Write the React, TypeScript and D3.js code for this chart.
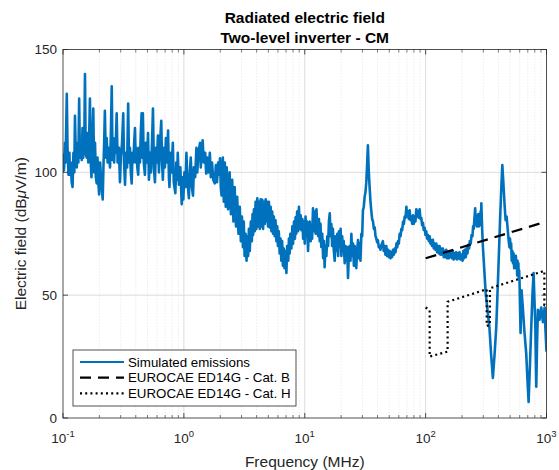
import React from 'react';
import * as d3 from 'd3';

const width = 559;
const height = 470;
const left = 63;
const right = 546.5;
const top = 49.5;
const bottom = 418;
const font = '"Liberation Sans", Arial, Helvetica, sans-serif';
const axisColor = '#262626';
const blue = '#0072BD';

// simulated emissions, [frequency MHz, field dBuV/m]
const emission01to045 = [
  [0.1, 100], [0.1005, 107], [0.102, 101], [0.104, 112], [0.105, 104], [0.1075, 132], [0.109, 110],
  [0.111, 99], [0.113, 108], [0.114, 99], [0.116, 104], [0.118, 96], [0.12, 94], [0.122, 108],
  [0.124, 100], [0.1256, 123], [0.128, 104], [0.13, 102], [0.132, 112], [0.134, 104], [0.136, 130],
  [0.138, 106], [0.14, 112], [0.143, 105], [0.145, 118], [0.147, 106], [0.15, 112], [0.152, 140],
  [0.154, 108], [0.157, 106], [0.159, 116], [0.162, 104], [0.1645, 114], [0.167, 130], [0.17, 103],
  [0.172, 98], [0.175, 112], [0.178, 126], [0.181, 100], [0.184, 112], [0.187, 98], [0.19, 95.5],
  [0.193, 106], [0.196, 96], [0.199, 91], [0.203, 104], [0.207, 96], [0.213, 89], [0.216, 102],
  [0.219, 112], [0.222, 125], [0.226, 106], [0.23, 114], [0.234, 104], [0.238, 110], [0.245, 102],
  [0.249, 116], [0.253, 135], [0.257, 105], [0.261, 114], [0.265, 104], [0.268, 112], [0.272, 108],
  [0.278, 124], [0.283, 104], [0.29, 110], [0.296, 96], [0.301, 106], [0.308, 112], [0.315, 124],
  [0.32, 104], [0.326, 95], [0.332, 108], [0.339, 102], [0.346, 128], [0.352, 104], [0.358, 110],
  [0.364, 100], [0.37, 95.5], [0.376, 108], [0.382, 104], [0.388, 112], [0.394, 118], [0.4, 104],
  [0.406, 110], [0.412, 102], [0.419, 99], [0.426, 110], [0.433, 104], [0.44, 116], [0.447, 124],
];

const emission045to2 = [
  [0.452, 106], [0.458, 124], [0.466, 104], [0.476, 99], [0.485, 112], [0.495, 104], [0.505, 116],
  [0.514, 97], [0.524, 108], [0.534, 100], [0.545, 112], [0.555, 126], [0.565, 102], [0.576, 96],
  [0.587, 110], [0.598, 104], [0.61, 115], [0.622, 100], [0.635, 112], [0.65, 121], [0.66, 104],
  [0.67, 97], [0.683, 110], [0.697, 102], [0.71, 114], [0.725, 104], [0.74, 117], [0.752, 98],
  [0.76, 94], [0.775, 108], [0.79, 100], [0.81, 112], [0.825, 96], [0.85, 91.5], [0.865, 104],
  [0.88, 97], [0.89, 108], [0.91, 95], [0.935, 102], [0.96, 87], [0.975, 98], [0.99, 89],
  [1.01, 100], [1.03, 94], [1.05, 108], [1.07, 96], [1.1, 89.5], [1.12, 100], [1.14, 106],
  [1.165, 94], [1.19, 90.5], [1.21, 102], [1.24, 98], [1.27, 110], [1.29, 100], [1.32, 108],
  [1.36, 112], [1.38, 102], [1.41, 110], [1.43, 113], [1.46, 104], [1.5, 108], [1.53, 99.5],
  [1.56, 106], [1.6, 100], [1.64, 108], [1.67, 98], [1.71, 104], [1.75, 97], [1.8, 95.5],
  [1.84, 103], [1.88, 96], [1.92, 104], [1.96, 99], [1.99, 105.7], [2.02, 94], [2.05, 90.6],
];

const emission2to10 = [
  [2.1, 106], [2.14, 88], [2.18, 104], [2.22, 86], [2.26, 102], [2.32, 85], [2.39, 100], [2.45, 83],
  [2.51, 97], [2.57, 80], [2.63, 94], [2.7, 78], [2.76, 90], [2.83, 75], [2.9, 86], [2.96, 72],
  [3.02, 82], [3.08, 69.5], [3.13, 80], [3.18, 66], [3.24, 75], [3.3, 64], [3.35, 74], [3.4, 66],
  [3.45, 77], [3.51, 68], [3.58, 80], [3.65, 72], [3.7, 83], [3.74, 74.5], [3.8, 85], [3.86, 76],
  [3.92, 88], [3.98, 77], [4.05, 89.4], [4.12, 78], [4.18, 88], [4.25, 77], [4.32, 89], [4.39, 78],
  [4.45, 88.8], [4.52, 77], [4.6, 88], [4.67, 79], [4.75, 89], [4.82, 80], [4.9, 88], [4.97, 78],
  [5.05, 88], [5.13, 77.6], [5.22, 86], [5.3, 76], [5.38, 84], [5.47, 75], [5.55, 82], [5.64, 74],
  [5.73, 80.5], [5.83, 72], [5.92, 78], [6.0, 70], [6.1, 76], [6.2, 67], [6.3, 73], [6.4, 64],
  [6.5, 72], [6.6, 62], [6.7, 69], [6.8, 61], [6.95, 68], [7.05, 59], [7.15, 70], [7.3, 64],
  [7.4, 73], [7.5, 67], [7.6, 75], [7.75, 69], [7.9, 78], [8.0, 71], [8.15, 80], [8.3, 73],
  [8.4, 81.7], [8.5, 75], [8.65, 84], [8.8, 76], [8.95, 86], [9.1, 77], [9.25, 82.5], [9.4, 76.4],
  [9.55, 81], [9.7, 73], [9.85, 80], [10.0, 71],
];

const emission10to43 = [
  [10.15, 82], [10.3, 74], [10.45, 80], [10.65, 68], [10.8, 77], [11.0, 80], [11.2, 72], [11.36, 78],
  [11.5, 73], [11.7, 85.4], [11.9, 76], [12.1, 84], [12.3, 75], [12.5, 85], [12.7, 77], [12.9, 74],
  [13.1, 81], [13.3, 72], [13.5, 79], [13.7, 69.6], [13.95, 75], [14.2, 65], [14.4, 72], [14.6, 61.4],
  [14.85, 70], [15.1, 66], [15.35, 74], [15.6, 70], [15.85, 80], [16.1, 83.3], [16.35, 74], [16.6, 79],
  [16.85, 70], [17.1, 77], [17.4, 68], [17.7, 64], [18.0, 74], [18.3, 68], [18.6, 75], [18.9, 66],
  [19.2, 76], [19.5, 70], [19.8, 77], [20.1, 66], [20.4, 74], [20.7, 68], [21.0, 72], [21.4, 63],
  [21.75, 70], [22.1, 64], [22.45, 69.6], [22.8, 57], [23.15, 66], [23.5, 70], [23.9, 64], [24.3, 75],
  [24.7, 66], [25.1, 71], [25.5, 62], [25.9, 70], [26.3, 64], [26.7, 61], [27.1, 68], [27.6, 72.4],
  [28.0, 65], [28.5, 71], [28.9, 64], [29.4, 75], [29.85, 74], [30.3, 84.5], [30.8, 86], [31.3, 90],
  [31.8, 92], [32.3, 96], [32.8, 103], [33.3, 111], [33.8, 101], [34.4, 94], [35.0, 88], [35.5, 84.5],
  [36.1, 81], [36.7, 80], [37.3, 77], [37.9, 77.6], [38.5, 74], [39.1, 73], [39.7, 71.5], [40.3, 72.4],
  [41.0, 69.5], [41.6, 70], [42.3, 68.5], [43.0, 70.3],
];

const emission43to200 = [
  [44.3, 72], [45, 68], [45.8, 70], [46.5, 66.5], [47.3, 70], [48, 66], [48.8, 68.5], [49.6, 65.5],
  [50.4, 68], [51.2, 65], [52.0, 67.5], [52.8, 65.5], [53.7, 68.5], [54.6, 66.5], [55.5, 69],
  [56.4, 67.5], [57.3, 71], [58.2, 69.5], [59.1, 72], [60, 71], [61.0, 75], [62, 74], [63.0, 77],
  [64, 76.5], [65.1, 80], [66.1, 79], [67.1, 82], [68.2, 81.5], [69.3, 86], [70.4, 82], [71.5, 84],
  [72.6, 81], [73.8, 84.5], [75, 80.5], [76.2, 82], [77.4, 79], [78.6, 82.5], [79.8, 79], [81.1, 82],
  [82.4, 80], [83.8, 85], [85.1, 82], [86.4, 84], [87.8, 81.5], [89.2, 85], [90.6, 81], [92.1, 81.5],
  [93.5, 78.5], [95.0, 79.5], [96.5, 76.5], [98.1, 77.5], [99.7, 74.5], [101.3, 76], [102.9, 73],
  [104.5, 74.5], [106.2, 72], [107.9, 74], [109.6, 71], [111.4, 72.5], [113.1, 70], [114.9, 72.5],
  [116.8, 69], [118.7, 71], [120.6, 68.5], [122.5, 71], [124.4, 67.5], [126.4, 70], [128.4, 67],
  [130.5, 70], [132.6, 66.5], [134.8, 69], [136.9, 66.5], [139.0, 69], [141.3, 65.5], [143.6, 68],
  [145.9, 65.5], [148.2, 68.5], [150.5, 65], [152.9, 67.5], [155.4, 65], [157.9, 68], [160.4, 65.5],
  [163.0, 67.5], [165.5, 65], [168.1, 68], [170.8, 64.5], [173.6, 67], [176.4, 65], [179.2, 67.5],
  [182, 64.5], [184.8, 67], [187.8, 65], [190.8, 67.5], [193.9, 64.5], [197.0, 66.5],
];

const emission200to1000 = [
  [202, 64], [205, 68], [208, 65], [211, 68.5], [215, 65.5], [218, 69], [222, 67], [225, 70.5],
  [229, 69], [232, 72], [236, 71], [240, 74.5], [244, 74], [247, 78], [250, 77], [254, 82],
  [257, 85.4], [260, 79], [263, 81], [265, 78], [268, 82.5], [270, 79], [273, 83], [276, 78],
  [280, 78.5], [283, 81], [285, 84], [287, 80], [289, 87.4], [292, 80], [294, 76], [298, 69.5],
  [306, 60], [314, 50.8], [325, 44], [337, 37], [348, 26], [360, 16.3], [372, 26], [384, 37],
  [394, 52], [404, 67], [414, 82], [423, 94], [431, 103], [437, 98], [444, 92], [451, 86],
  [459, 80.5], [468, 82], [479, 76], [487, 72], [494, 69.5], [499, 73], [505, 69], [510, 71],
  [516, 64], [522, 68], [528, 63], [534, 67], [540, 61], [546, 66], [552, 63], [558, 66],
  [563, 61], [568, 64], [572, 58], [576, 64], [580, 60], [585, 63], [590, 57], [594, 60],
  [598, 56], [604, 45], [610, 34.6], [616, 44], [622, 52], [630, 48], [637, 45], [655, 36],
  [680, 26], [695, 16], [711, 6.5], [730, 22], [748, 37], [765, 50], [782, 59], [795, 48],
  [808, 38], [815, 25], [823, 12.7], [835, 30], [849, 44], [862, 42], [877, 40], [890, 43],
  [905, 45], [920, 42], [934, 39], [950, 42], [965, 45], [980, 36], [1000, 27],
];

// EUROCAE ED14G limits
const limitBFreq = [100, 1000];
const limitBLevel = [65, 80];
const limitHFreq = [100, 108, 108, 152, 152, 320, 320, 340, 340, 960, 960, 1000];
const limitHLevel = [45, 44, 25, 27, 47.3, 52.4, 37.5, 37.8, 52.8, 59.9, 46, 46];

const decades = [0.1, 1, 10, 100, 1000];
const decadeExponents = ['-1', '0', '1', '2', '3'];
const yTicks = [0, 50, 100, 150];

const legendItems = [
  { label: 'Simulated emissions', color: blue, dash: undefined },
  { label: 'EUROCAE ED14G - Cat. B', color: '#000', dash: '11 7' },
  { label: 'EUROCAE ED14G - Cat. H', color: '#000', dash: '2 3.2' },
];

export default function App() {
  const x = d3.scaleLog().domain([0.1, 1000]).range([left, right]);
  const y = d3.scaleLinear().domain([0, 150]).range([bottom, top]);

  const emissions = [
    ...emission01to045, ...emission045to2, ...emission2to10,
    ...emission10to43, ...emission43to200, ...emission200to1000,
  ];

  const line = d3.line<number[]>()
    .x(d => x(d[0]))
    .y(d => y(d[1]));

  const limitB = limitBFreq.map((f, i) => [f, limitBLevel[i]]);
  const limitH = limitHFreq.map((f, i) => [f, limitHLevel[i]]);

  // minor ticks 2..9 in each decade
  const minors: number[] = [];
  decades.slice(0, 4).forEach(d => {
    for (let k = 2; k <= 9; k++) minors.push(d * k);
  });

  return (
    <svg width={width} height={height} style={{ position: 'absolute', left: 0, top: 0 }}
      fontFamily={font}>
      <rect width={width} height={height} fill="#fff" />
      <defs>
        <clipPath id="plotclip">
          <rect x={left} y={top} width={right - left} height={bottom - top} />
        </clipPath>
      </defs>

      {/* grid */}
      {minors.map(m => (
        <line key={'mg' + m} x1={x(m)} x2={x(m)} y1={top} y2={bottom}
          stroke="#c8c8c8" strokeWidth={0.5} strokeDasharray="1 2" />
      ))}
      {decades.slice(1, 4).map(d => (
        <line key={'g' + d} x1={x(d)} x2={x(d)} y1={top} y2={bottom} stroke="#dcdcdc" strokeWidth={1} />
      ))}
      {yTicks.slice(1, 3).map(t => (
        <line key={'gy' + t} x1={left} x2={right} y1={y(t)} y2={y(t)} stroke="#dcdcdc" strokeWidth={1} />
      ))}

      {/* data */}
      <g clipPath="url(#plotclip)">
        <path d={line(emissions) || ''} fill="none" stroke={blue} strokeWidth={2.6}
          strokeLinejoin="round" />
        <path d={line(limitB) || ''} fill="none" stroke="#000" strokeWidth={2.2} strokeDasharray="11 7" />
        <path d={line(limitH) || ''} fill="none" stroke="#000" strokeWidth={2.2} strokeDasharray="2 3.2" />
      </g>

      {/* axes box and ticks */}
      <rect x={left} y={top} width={right - left} height={bottom - top} fill="none"
        stroke={axisColor} strokeWidth={0.8} />
      {decades.map(d => (
        <g key={'t' + d}>
          <line x1={x(d)} x2={x(d)} y1={bottom} y2={bottom - 5} stroke={axisColor} strokeWidth={0.8} />
          <line x1={x(d)} x2={x(d)} y1={top} y2={top + 5} stroke={axisColor} strokeWidth={0.8} />
        </g>
      ))}
      {minors.map(m => (
        <g key={'mt' + m}>
          <line x1={x(m)} x2={x(m)} y1={bottom} y2={bottom - 3} stroke={axisColor} strokeWidth={0.6} />
          <line x1={x(m)} x2={x(m)} y1={top} y2={top + 3} stroke={axisColor} strokeWidth={0.6} />
        </g>
      ))}
      {yTicks.map(t => (
        <g key={'yt' + t}>
          <line x1={left} x2={left + 5} y1={y(t)} y2={y(t)} stroke={axisColor} strokeWidth={0.8} />
          <line x1={right} x2={right - 5} y1={y(t)} y2={y(t)} stroke={axisColor} strokeWidth={0.8} />
          <text x={left - 6} y={y(t) + 4.5} textAnchor="end" fontSize={13.5} fill={axisColor}>{t}</text>
        </g>
      ))}
      {decades.map((d, i) => (
        <text key={'xl' + d} x={x(d)} y={bottom + 25} textAnchor="middle" fontSize={13.5} fill={axisColor}>
          10<tspan dy={-6} fontSize={9.5}>{decadeExponents[i]}</tspan>
        </text>
      ))}

      {/* labels */}
      <text x={(left + right) / 2} y={bottom + 49} textAnchor="middle" fontSize={15.5} fill={axisColor}>
        Frequency (MHz)
      </text>
      <text transform={`translate(26, ${(top + bottom) / 2}) rotate(-90)`} textAnchor="middle"
        fontSize={15.5} fill={axisColor}>
        Electric field (dB<tspan fontStyle="italic">μ</tspan>V/m)
      </text>
      <text x={(left + right) / 2} y={22.5} textAnchor="middle" fontSize={15.5} fontWeight="bold" fill="#000">
        Radiated electric field
      </text>
      <text x={(left + right) / 2} y={43} textAnchor="middle" fontSize={15.5} fontWeight="bold" fill="#000">
        Two-level inverter - CM
      </text>

      {/* legend */}
      <rect x={73} y={350} width={223} height={56} fill="#fff" stroke={axisColor} strokeWidth={0.8} />
      {legendItems.map((item, i) => (
        <g key={item.label} transform={`translate(0, ${362 + i * 15.7})`}>
          <line x1={80} x2={124} y1={0} y2={0} stroke={item.color} strokeWidth={2.2}
            strokeDasharray={item.dash} />
          <text x={128} y={4.5} fontSize={13.3} fill="#000">{item.label}</text>
        </g>
      ))}
    </svg>
  );
}
